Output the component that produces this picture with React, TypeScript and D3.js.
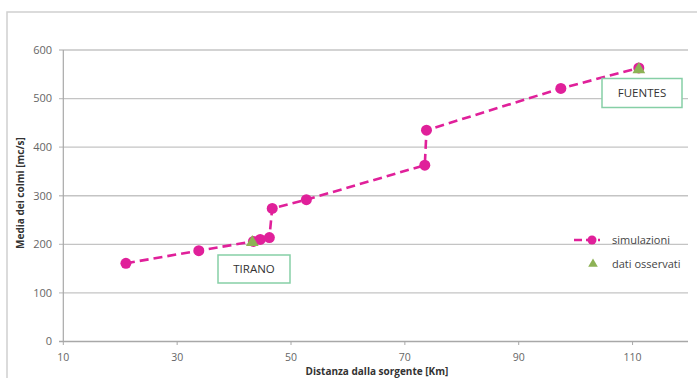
import React from "react";
import * as d3 from "d3";

const simX = [21, 33.8, 43.4, 44.6, 46.2, 46.7, 52.7, 73.5, 73.8, 97.4, 111.1];
const simY = [161, 187, 206, 210, 214, 274, 292, 363, 435, 521, 563];
const obsX = [43.2, 111.1];
const obsY = [206, 562];
const xTicks = [10, 30, 50, 70, 90, 110];
const yTicks = [0, 100, 200, 300, 400, 500, 600];
const stations = ["TIRANO", "FUENTES"];

const W = 697;
const H = 378;
const PINK = "#e0209a";
const GREEN = "#8db255";
const FONT = "'Open Sans', 'Noto Sans', sans-serif";

export default function App() {
  const x = d3.scaleLinear().domain([10, 120]).range([63.3, 689.5]);
  const y = d3.scaleLinear().domain([0, 600]).range([341.5, 50]);
  const sim = simX.map((v, i) => [v, simY[i]] as [number, number]);
  const obs = obsX.map((v, i) => [v, obsY[i]] as [number, number]);
  const line = d3
    .line<[number, number]>()
    .x((d) => x(d[0]))
    .y((d) => y(d[1]))
    .curve(d3.curveLinear);
  const tri = d3.symbol().type(d3.symbolTriangle).size(70)();

  return (
    <svg
      width={W}
      height={H}
      style={{ position: "absolute", left: 0, top: 0, background: "#fff" }}
      fontFamily={FONT}
    >
      <rect x={7} y={12} width={W} height={H} fill="#fff" stroke="#d0d0d0" strokeWidth={1.5} />
      {yTicks.map((t) => (
        <g key={"y" + t}>
          <line x1={59} x2={688} y1={y(t)} y2={y(t)} stroke={t === 0 ? "#a8a8a8" : "#c4c4c4"} strokeWidth={1.4} />
          <text x={52} y={y(t)} dy="0.35em" textAnchor="end" fontSize={11} fill="#666">
            {t}
          </text>
        </g>
      ))}
      <line x1={63.3} x2={63.3} y1={50} y2={341.5} stroke="#a8a8a8" strokeWidth={1.2} />
      {xTicks.map((t) => (
        <g key={"x" + t}>
          <line x1={x(t)} x2={x(t)} y1={341.5} y2={345} stroke="#a8a8a8" strokeWidth={1} />
          <text x={x(t)} y={357.5} dy="0.35em" textAnchor="middle" fontSize={10.5} fill="#666">
            {t}
          </text>
        </g>
      ))}
      <text
        transform={`translate(20,193) rotate(-90)`}
        textAnchor="middle"
        dy="0.35em"
        fontSize={10}
        fontWeight="bold"
        fill="#333"
      >
        Media dei colmi [mc/s]
      </text>
      <text x={377} y={375} textAnchor="middle" fontSize={10} fontWeight="bold" fill="#333">
        Distanza dalla sorgente [Km]
      </text>

      <path d={line(sim) || ""} fill="none" stroke={PINK} strokeWidth={2.6} strokeDasharray="9,5" />
      {sim.map((d, i) => (
        <circle key={"s" + i} cx={x(d[0])} cy={y(d[1])} r={5.5} fill={PINK} />
      ))}
      {obs.map((d, i) => (
        <path key={"o" + i} d={tri || ""} transform={`translate(${x(d[0])},${y(d[1]) + 1})`} fill={GREEN} />
      ))}

      {/* station labels */}
      <g>
        <rect x={218} y={255} width={72} height={28} fill="#fff" stroke="#86cfa6" strokeWidth={1.5} />
        <text x={254} y={269} dy="0.35em" textAnchor="middle" fontSize={11.5} fill="#333">
          {stations[0]}
        </text>
        <rect x={602} y={78.5} width={80} height={29} fill="#fff" stroke="#86cfa6" strokeWidth={1.5} />
        <text x={642} y={93} dy="0.35em" textAnchor="middle" fontSize={11.5} fill="#333">
          {stations[1]}
        </text>
      </g>

      {/* legend */}
      <g>
        <line x1={574} x2={600} y1={240} y2={240} stroke={PINK} strokeWidth={2.4} strokeDasharray="8,4" />
        <circle cx={592} cy={240} r={4.5} fill={PINK} />
        <text x={612} y={240} dy="0.35em" fontSize={11} fill="#444">
          simulazioni
        </text>
        <path
          d={d3.symbol().type(d3.symbolTriangle).size(40)() || ""}
          transform="translate(593,264)"
          fill={GREEN}
        />
        <text x={612} y={264} dy="0.35em" fontSize={11} fill="#444">
          dati osservati
        </text>
      </g>
    </svg>
  );
}
